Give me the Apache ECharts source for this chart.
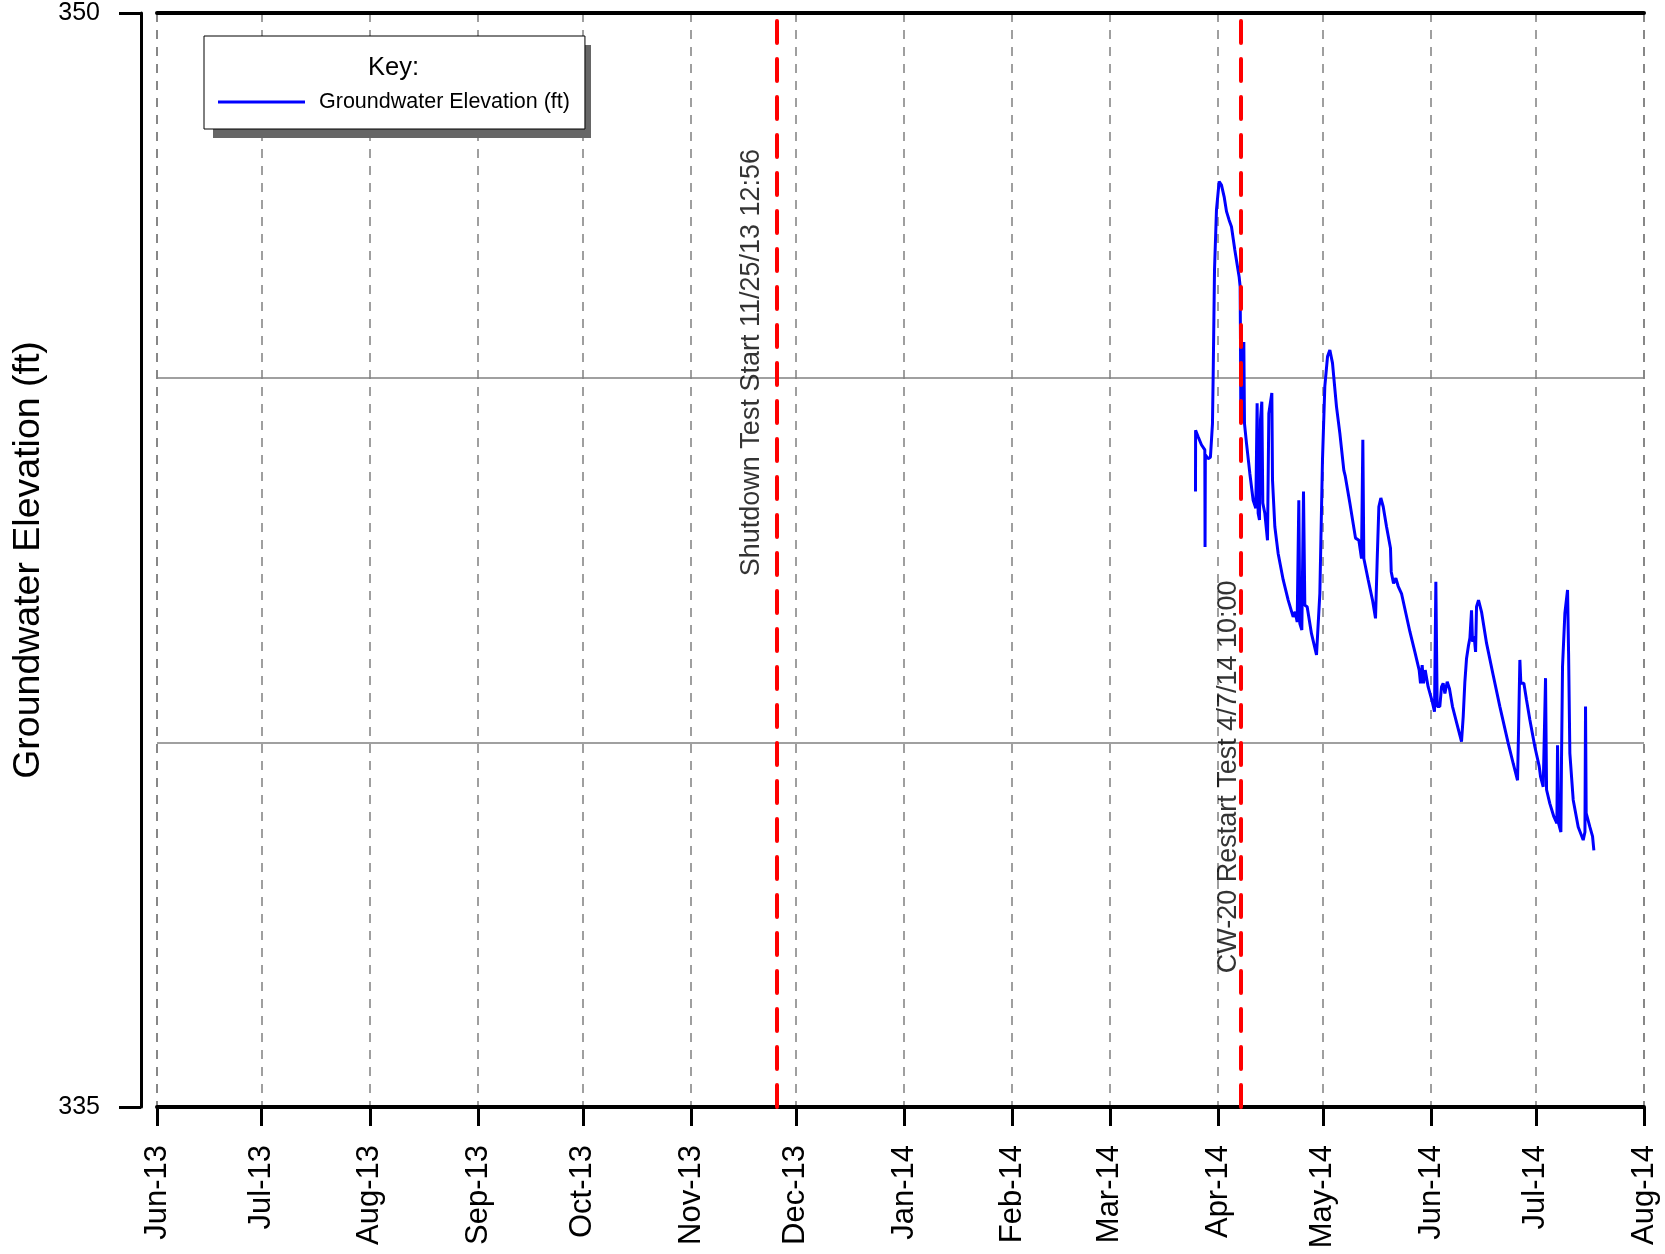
<!DOCTYPE html>
<html>
<head>
<meta charset="utf-8">
<title>Groundwater Elevation</title>
<script src="https://cdn.jsdelivr.net/npm/echarts@6/dist/echarts.min.js"></script>
<style>
  html, body { margin: 0; padding: 0; background: #fff; }
  #chart { width: 1665px; height: 1254px; }
</style>
</head>
<body>
<div id="chart"></div>
<script>
// axis range and tick labels
const monthNames = ['Jan', 'Feb', 'Mar', 'Apr', 'May', 'Jun', 'Jul', 'Aug', 'Sep', 'Oct', 'Nov', 'Dec']
const xStart = '2013-06-01'
const xEnd = '2014-08-01'
const yTickLabels = [335, 350]

// test events (red lines)
const eventTimes = ['2013-11-25 12:56', '2014-04-07 10:00']
const eventNames = ['Shutdown Test Start 11/25/13 12:56', 'CW-20 Restart Test 4/7/14 10:00']

// logger readings
const obsTimes = [
  '2014-03-25 12:15', '2014-03-25 13:00', '2014-03-26 06:30', '2014-03-27 05:00', '2014-03-28 04:20',
  '2014-03-28 06:00', '2014-03-28 08:00', '2014-03-29 03:00', '2014-03-29 19:00', '2014-03-30 09:00',
  '2014-03-30 13:40', '2014-03-30 23:00', '2014-03-31 12:30', '2014-04-01 07:00', '2014-04-01 23:00',
  '2014-04-02 17:20', '2014-04-03 09:20', '2014-04-04 03:40', '2014-04-04 19:40', '2014-04-05 18:40',
  '2014-04-07 00:30', '2014-04-07 07:15', '2014-04-07 09:40', '2014-04-07 11:50', '2014-04-07 21:00',
  '2014-04-08 04:00', '2014-04-08 08:30', '2014-04-08 13:10', '2014-04-09 03:00', '2014-04-10 01:40',
  '2014-04-11 00:40', '2014-04-11 19:00', '2014-04-12 04:00', '2014-04-12 11:00', '2014-04-12 20:10',
  '2014-04-13 03:00', '2014-04-13 12:15', '2014-04-13 19:10', '2014-04-14 09:00', '2014-04-15 03:20',
  '2014-04-15 12:30', '2014-04-15 21:00', '2014-04-16 09:10', '2014-04-16 13:40', '2014-04-17 05:40',
  '2014-04-18 04:30', '2014-04-19 15:00', '2014-04-21 01:30', '2014-04-22 11:40', '2014-04-23 01:30',
  '2014-04-23 15:20', '2014-04-24 02:40', '2014-04-24 09:40', '2014-04-24 23:20', '2014-04-25 10:50',
  '2014-04-25 20:00', '2014-04-26 12:00', '2014-04-27 17:50', '2014-04-29 04:20', '2014-04-29 13:00',
  '2014-04-30 03:10', '2014-04-30 21:20', '2014-05-01 13:30', '2014-05-02 08:00', '2014-05-03 00:00',
  '2014-05-03 18:15', '2014-05-04 21:50', '2014-05-05 20:40', '2014-05-07 00:15', '2014-05-07 10:00',
  '2014-05-08 17:30', '2014-05-10 08:30', '2014-05-11 07:30', '2014-05-12 01:40', '2014-05-12 10:50',
  '2014-05-12 17:40', '2014-05-13 23:30', '2014-05-15 05:20', '2014-05-16 02:00', '2014-05-16 13:30',
  '2014-05-17 01:00', '2014-05-17 14:40', '2014-05-18 07:00', '2014-05-19 05:30', '2014-05-20 09:00',
  '2014-05-20 14:00', '2014-05-21 05:50', '2014-05-21 21:50', '2014-05-22 14:00', '2014-05-23 12:45',
  '2014-05-25 22:00', '2014-05-27 08:30', '2014-05-28 14:10', '2014-05-28 23:20', '2014-05-29 10:50',
  '2014-05-29 20:00', '2014-05-30 07:30', '2014-05-31 04:00', '2014-06-01 05:20', '2014-06-01 23:40',
  '2014-06-02 08:50', '2014-06-02 18:00', '2014-06-03 12:00', '2014-06-03 23:50', '2014-06-04 11:00',
  '2014-06-04 23:00', '2014-06-05 15:00', '2014-06-06 06:00', '2014-06-07 03:20', '2014-06-08 11:30',
  '2014-06-09 17:20', '2014-06-10 04:50', '2014-06-10 16:20', '2014-06-11 03:50', '2014-06-11 17:30',
  '2014-06-12 03:00', '2014-06-12 14:10', '2014-06-12 21:00', '2014-06-13 08:25', '2014-06-13 18:00',
  '2014-06-14 00:30', '2014-06-14 14:10', '2014-06-15 10:50', '2014-06-16 21:20', '2014-06-18 19:10',
  '2014-06-20 17:00', '2014-06-23 02:10', '2014-06-24 12:40', '2014-06-25 18:30', '2014-06-26 02:00',
  '2014-06-26 10:30', '2014-06-26 17:20', '2014-06-27 14:00', '2014-06-28 08:20', '2014-06-29 07:10',
  '2014-06-30 17:30', '2014-07-01 23:30', '2014-07-02 08:40', '2014-07-02 18:00', '2014-07-03 03:00',
  '2014-07-03 19:00', '2014-07-04 02:00', '2014-07-05 00:45', '2014-07-06 04:20', '2014-07-07 01:00',
  '2014-07-07 05:30', '2014-07-07 12:50', '2014-07-08 04:30', '2014-07-08 09:00', '2014-07-08 15:50',
  '2014-07-09 08:00', '2014-07-10 02:20', '2014-07-10 09:30', '2014-07-10 18:15', '2014-07-11 17:15',
  '2014-07-13 03:40', '2014-07-14 14:00', '2014-07-15 02:00', '2014-07-15 06:00', '2014-07-15 10:30',
  '2014-07-16 11:45', '2014-07-17 06:15', '2014-07-17 15:20'
]
const elevations = [
  343.44, 344.28, 344.19, 344.08, 344.01,
  342.68, 343.94, 343.89, 343.91, 344.37,
  345.01, 346.48, 347.30, 347.69, 347.64,
  347.48, 347.28, 347.16, 347.07, 346.75,
  346.38, 346.25, 345.49, 344.42, 345.49,
  344.42, 345.49, 344.37, 344.10, 343.69,
  343.32, 343.21, 344.65, 343.14, 343.05,
  344.42, 344.67, 343.28, 343.14, 342.77,
  344.51, 344.51, 344.79, 343.60, 342.96,
  342.59, 342.23, 341.95, 341.72, 341.79,
  341.65, 343.32, 341.63, 341.54, 343.44,
  341.88, 341.86, 341.49, 341.20, 341.22,
  342.04, 343.87, 344.88, 345.29, 345.38,
  345.20, 344.60, 344.24, 343.73, 343.65,
  343.28, 342.80, 342.77, 342.52, 344.15,
  342.52, 342.23, 341.95, 341.70, 342.50,
  343.23, 343.35, 343.23, 342.96, 342.66,
  342.34, 342.18, 342.25, 342.14, 342.04,
  341.52, 341.24, 340.99, 340.81, 341.06,
  340.81, 340.99, 340.76, 340.58, 340.42,
  342.20, 340.49, 340.49, 340.76, 340.81,
  340.67, 340.83, 340.74, 340.49, 340.24,
  340.01, 340.35, 340.83, 341.15, 341.33,
  341.43, 341.81, 341.38, 341.45, 341.24,
  341.86, 341.95, 341.79, 341.36, 340.92,
  340.49, 339.99, 339.71, 339.48, 340.21,
  341.13, 340.81, 340.81, 340.58, 340.31,
  339.94, 339.67, 339.53, 339.55, 339.39,
  340.88, 339.35, 339.16, 338.98, 338.89,
  339.96, 338.89, 338.77, 339.80, 341.04,
  341.77, 342.09, 341.22, 339.85, 339.21,
  338.84, 338.66, 338.77, 340.49, 339.03,
  338.84, 338.71, 338.52
]

const chart = echarts.init(document.getElementById('chart'))
const font = "'Liberation Sans', Arial, sans-serif"

// where the rotated event texts sit (value centre, pixel nudge from the line)
const labelAt = [
  { y: 345.2, dx: -11 },
  { y: 339.52, dx: 2 }
]

const option = {
  animation: false,
  textStyle: { fontFamily: font, color: '#000' },
  title: {
    text: 'Key:',
    left: 368,
    top: 55,
    padding: 0,
    textStyle: { fontSize: 25.5, fontWeight: 'normal', color: '#000', fontFamily: font }
  },
  // hard drop shadow behind the key box
  graphic: [
    {
      type: 'rect',
      z: 3,
      silent: true,
      shape: { x: 213, y: 45, width: 378, height: 93 },
      style: { fill: '#666666' }
    }
  ],
  legend: {
    data: ['Groundwater Elevation (ft)'],
    left: 204,
    top: 36,
    orient: 'vertical',
    padding: [55, 15, 16, 14],
    icon: 'rect',
    itemWidth: 87,
    itemHeight: 3,
    selectedMode: false,
    backgroundColor: '#fff',
    borderColor: '#000',
    borderWidth: 1,
    textStyle: { fontSize: 21.5, color: '#000', fontFamily: font, padding: [0, 0, 0, 9] }
  },
  grid: {
    left: 157,
    right: 21,
    top: 13,
    bottom: 147,
    outerBoundsMode: 'none'
  },
  xAxis: [
    {
      type: 'time',
      min: xStart,
      max: xEnd,
      splitNumber: 14,
      axisLine: { show: true, lineStyle: { color: '#000', width: 4 } },
      axisTick: { show: true, length: 19, lineStyle: { color: '#000', width: 3 } },
      axisLabel: {
        rotate: 90,
        fontSize: 31,
        margin: 38,
        color: '#000',
        fontFamily: font,
        showMinLabel: true,
        showMaxLabel: true,
        formatter: function (v) {
          const d = new Date(v)
          return monthNames[d.getMonth()] + '-' + String(d.getFullYear()).slice(2)
        }
      },
      splitLine: { show: true, lineStyle: { color: '#808080', width: 1.5, type: [9, 8] } }
    },
    {
      // thick line along the top
      type: 'time',
      position: 'top',
      min: xStart,
      max: xEnd,
      axisLine: { show: true, lineStyle: { color: '#000', width: 4 } },
      axisTick: { show: false },
      axisLabel: { show: false },
      splitLine: { show: false }
    }
  ],
  yAxis: [
    {
      type: 'value',
      min: 335,
      max: 350,
      interval: 5,
      position: 'left',
      offset: 16,
      name: 'Groundwater Elevation (ft)',
      nameLocation: 'middle',
      nameGap: 85,
      nameTextStyle: { fontSize: 37.5, color: '#000', fontFamily: font },
      axisLine: { show: true, lineStyle: { color: '#000', width: 3 } },
      axisTick: { show: true, customValues: yTickLabels, length: 22, lineStyle: { color: '#000', width: 3 } },
      axisLabel: { customValues: yTickLabels, fontSize: 25, margin: 41, color: '#000', fontFamily: font },
      splitLine: { show: false }
    },
    {
      // horizontal grid lines only
      type: 'value',
      min: 335,
      max: 350,
      interval: 5,
      position: 'right',
      axisLine: { show: false },
      axisTick: { show: false },
      axisLabel: { show: false },
      splitLine: { show: true, lineStyle: { color: '#808080', width: 1.5 } }
    }
  ],
  series: [
    {
      name: 'Groundwater Elevation (ft)',
      type: 'line',
      data: obsTimes.map((t, i) => [t, elevations[i]]),
      showSymbol: false,
      symbol: 'none',
      color: '#0000ff',
      itemStyle: { color: '#0000ff' },
      lineStyle: { color: '#0000ff', width: 3 },
      z: 3
    },
    {
      name: 'events',
      type: 'scatter',
      symbolSize: 1,
      itemStyle: { color: 'transparent' },
      silent: true,
      z: 5,
      label: {
        show: true,
        rotate: 90,
        align: 'center',
        verticalAlign: 'bottom',
        fontSize: 27,
        color: '#000',
        fontFamily: font
      },
      data: eventTimes.map((t, i) => ({
        value: [t, labelAt[i].y],
        label: { formatter: eventNames[i], position: [labelAt[i].dx, 0] }
      })),
      markLine: {
        silent: true,
        symbol: ['none', 'none'],
        label: { show: false },
        lineStyle: { color: '#ff0000', width: 4, type: [22, 16], cap: 'round' },
        data: eventTimes.map(t => ({ xAxis: t }))
      }
    }
  ]
}

chart.setOption(option)
window.addEventListener('resize', function () {
  chart.resize()
})
</script>
</body>
</html>
